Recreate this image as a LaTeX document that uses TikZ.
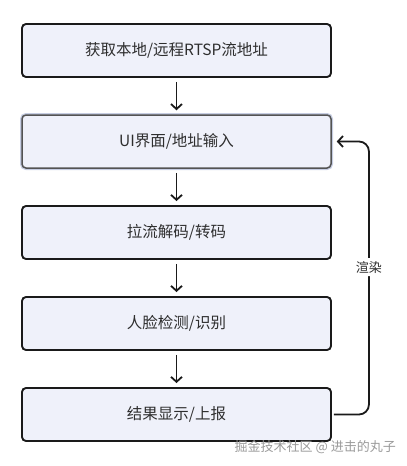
\documentclass[tikz,border=0pt]{standalone}
\usepackage{fontspec}
\setmainfont{Noto Sans CJK SC}
\usepackage{xcolor}
\usepackage{tikz}
\usetikzlibrary{arrows.meta,positioning}

\definecolor{boxfill}{HTML}{EFF1FA}
\definecolor{linedark}{HTML}{1A1A1A}
\definecolor{textdark}{HTML}{2E2E2E}
\definecolor{halo}{HTML}{C6CDE2}
\definecolor{markgray}{HTML}{9A9A9A}

\begin{document}
\begin{tikzpicture}[x=1pt, y=1pt, node distance=91pt, >={Straight Barb[length=5pt,width=11pt]}]
  % Styles
  \tikzstyle{stage} = [rectangle, draw=linedark, fill=boxfill, line width=1.9pt, rounded corners=4pt, minimum width=309pt, minimum height=53pt, text centered, text=textdark, font=\fontsize{15.5}{18}\selectfont]
  \tikzstyle{active} = [stage, draw=linedark!75, line width=1.5pt, preaction={draw=halo, line width=4pt}]
  \tikzstyle{flow} = [->, line width=1.8pt, draw=linedark, shorten >=4pt, shorten <=4pt]

  \useasboundingbox (0,0) rectangle (407,-466);

  % Nodes
  \node [stage] (source) at (176.5,-50.5) {获取本地/远程RTSP流地址};
  \node [active, below of=source] (input) {UI界面/地址输入};
  \node [stage, below of=input] (decode) {拉流解码/转码};
  \node [stage, below of=decode] (detect) {人脸检测/识别};
  \node [stage, below of=detect] (report) {结果显示/上报};

  % Paths / Edges
  \draw [flow] (source) -- (input);
  \draw [flow] (input) -- (decode);
  \draw [flow] (decode) -- (detect);
  \draw [flow] (detect) -- (report);
  \draw [flow, shorten <=2pt, shorten >=5pt, rounded corners=10pt] (report.east) -- ++(37,0) |- node[pos=0.27, fill=white, inner sep=3pt, text=textdark, font=\fontsize{13}{15}\selectfont] (render) {渲染} (input.east);

  % Watermark
  \node [anchor=east, text=markgray, font=\fontsize{13}{15}\selectfont, inner sep=0pt] (mark) at (396,-447) {掘金技术社区 @ 进击的丸子};
\end{tikzpicture}
\end{document}
